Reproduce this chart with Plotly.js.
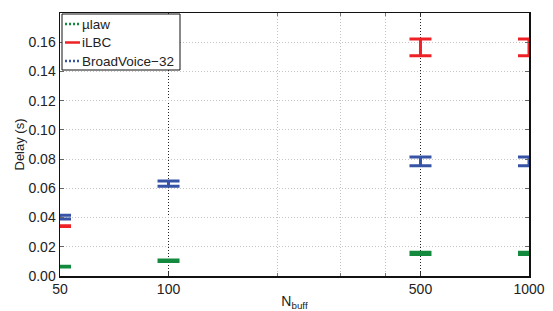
<!DOCTYPE html>
<html><head><meta charset="utf-8">
<script src="https://cdn.plot.ly/plotly-3.0.1.min.js"></script>
<style>html,body{margin:0;padding:0;background:#fff}#chart{width:553px;height:311px}</style>
</head><body><div id="chart"></div>
<script>
const nbuff = [50, 100, 500, 1000];
const ulawMean = [0.0064, 0.0104, 0.0155, 0.0155];
const ulawErr  = [0.0003, 0.0005, 0.0008, 0.0008];
const ilbcMean = [0.0341, null, 0.1565, 0.1565];
const ilbcErr  = [0.0003, 0, 0.0057, 0.0057];
const bvMean   = [0.0403, 0.0632, 0.0784, 0.0784];
const bvErr    = [0.0013, 0.0018, 0.0030, 0.0030];
const seriesNames = ['\u00b5law', 'iLBC', 'BroadVoice\u221232'];
const xTicks = [50, 100, 500, 1000];
const yTicks = [0, 0.02, 0.04, 0.06, 0.08, 0.10, 0.12, 0.14, 0.16];

const colors = ['#148a3f', '#ee2226', '#3653a5'];
const dashes = ['2px,2px', 'solid', '2px,2px'];
const means = [ulawMean, ilbcMean, bvMean];
const errs = [ulawErr, ilbcErr, bvErr];

const W = 553, H = 311, M = {l: 60, r: 24, t: 13, b: 35};
const pw = W - M.l - M.r, ph = H - M.t - M.b;
const px = v => (v - M.l) / pw;        // pixel -> paper x
const py = v => (H - M.b - v) / ph;    // pixel -> paper y

const traces = [];
means.forEach((m, i) => {
  traces.push({
    x: nbuff, y: m, type: 'scatter', mode: 'markers', name: seriesNames[i],
    marker: {size: 1, color: 'rgba(0,0,0,0)'},
    error_y: {type: 'data', array: errs[i], visible: true, color: colors[i], thickness: 3, width: 11},
    showlegend: false, hoverinfo: 'skip'
  });
});

// custom compact legend (box, short line samples, labels)
const shapes = [{type: 'rect', xref: 'paper', yref: 'paper', x0: px(62), x1: px(180), y0: py(14), y1: py(70),
                 line: {color: '#111', width: 1}, fillcolor: '#fff', layer: 'above'}];
const annotations = [];
const rowY = [24, 42.5, 61];
seriesNames.forEach((n, i) => {
  shapes.push({type: 'line', xref: 'paper', yref: 'paper', x0: px(65), x1: px(80), y0: py(rowY[i]), y1: py(rowY[i]),
               line: {color: colors[i], width: 2.5, dash: dashes[i]}, layer: 'above'});
  annotations.push({xref: 'paper', yref: 'paper', x: px(80), y: py(rowY[i]), xanchor: 'left', yanchor: 'middle',
                    text: n, showarrow: false, font: {size: 13.5, color: '#222'}});
});

const font = {family: 'Liberation Sans, Arial, sans-serif', size: 14, color: '#222'};
const layout = {
  width: W, height: H, margin: M,
  paper_bgcolor: '#fff', plot_bgcolor: '#fff',
  font: font, showlegend: false,
  shapes: shapes, annotations: annotations,
  xaxis: {
    type: 'log', range: [Math.log10(50), Math.log10(1000)],
    tickvals: xTicks, ticktext: xTicks.map(String),
    ticks: 'inside', ticklen: 4, tickcolor: '#333',
    showline: true, linecolor: '#111', linewidth: 1.5, mirror: 'ticks',
    showgrid: true, gridcolor: '#222', griddash: '1px,2px', gridwidth: 1,
    minor: {tickvals: [200, 300, 400], showgrid: true, gridcolor: '#c4c4c4', griddash: '1px,2px', ticks: 'inside', ticklen: 3, tickcolor: '#777'},
    zeroline: false,
    title: {text: 'N<sub>buff</sub>', font: {size: 14}, standoff: 4}
  },
  yaxis: {
    range: [0, 0.18],
    tickvals: yTicks, tickformat: '.2f',
    ticks: 'inside', ticklen: 4, tickcolor: '#666',
    showline: true, linecolor: '#111', linewidth: 1.5, mirror: 'ticks',
    showgrid: true, gridcolor: '#c4c4c4', griddash: '1px,2px', gridwidth: 1,
    zeroline: false,
    title: {text: 'Delay (s)', font: {size: 13}, standoff: 1}
  }
};
Plotly.newPlot('chart', traces, layout, {displayModeBar: false, staticPlot: true});
</script></body></html>
